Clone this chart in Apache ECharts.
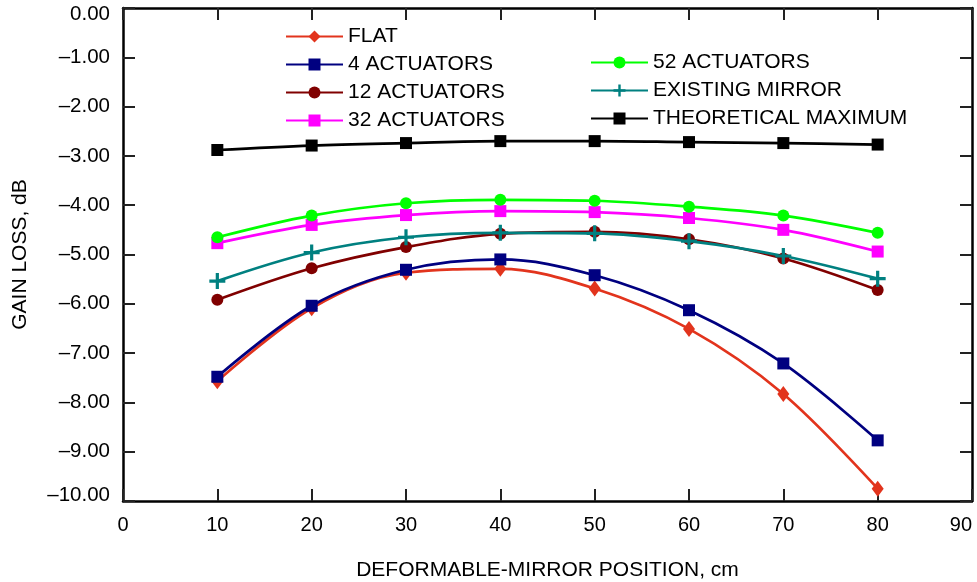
<!DOCTYPE html>
<html>
<head>
<meta charset="utf-8">
<script src="https://cdn.jsdelivr.net/npm/echarts@6/dist/echarts.min.js"></script>
<style>
  html, body { margin: 0; padding: 0; background: #fff; }
  #chart { width: 977px; height: 582px; }
</style>
</head>
<body>
<div id="chart"></div>
<script>
// mirror positions, cm
const positions = [10, 20, 30, 40, 50, 60, 70, 80];

// gain loss, dB
const flat = [-7.57, -6.09, -5.37, -5.29, -5.69, -6.51, -7.83, -9.75];
const act4 = [-7.48, -6.04, -5.31, -5.10, -5.42, -6.13, -7.21, -8.77];
const act12 = [-5.92, -5.28, -4.85, -4.58, -4.54, -4.69, -5.08, -5.72];
const act32 = [-4.77, -4.40, -4.20, -4.12, -4.14, -4.26, -4.50, -4.94];
const act52 = [-4.65, -4.21, -3.96, -3.89, -3.91, -4.03, -4.21, -4.56];
const existing = [-5.54, -4.96, -4.65, -4.56, -4.57, -4.73, -5.03, -5.49];
const theoretical = [-2.88, -2.79, -2.74, -2.70, -2.70, -2.72, -2.74, -2.77];

const seriesNames = [
  "FLAT", "4 ACTUATORS", "12 ACTUATORS", "32 ACTUATORS",
  "52 ACTUATORS", "EXISTING MIRROR", "THEORETICAL MAXIMUM"
];

const FONT = "Liberation Sans, Arial, sans-serif";
const plus = "path://M4,0H6V4H10V6H6V10H4V6H0V4H4Z";

function pairs(vals) {
  return positions.map((x, i) => [x, vals[i]]);
}

// one helper so every series looks the same apart from colour/marker
function line(name, vals, color, symbol, size) {
  return {
    name: name,
    type: "line",
    data: pairs(vals),
    smooth: 0.35,
    symbol: symbol,
    symbolSize: size,
    lineStyle: { color: color, width: 2.7 },
    itemStyle: { color: color },
    emphasis: { disabled: true },
  };
}

// y tick text: en dash minus, two decimals; the end labels sit inside the frame
function yLabel(v) {
  const txt = v === 0 ? "0.00" : "\u2013" + Math.abs(v).toFixed(2);
  if (v === 0) return "{top|" + txt + "}";
  if (v === -10) return "{bot|" + txt + "}";
  return txt;
}

const chart = echarts.init(document.getElementById("chart"));

const tickStyle = { show: true, inside: true, length: 12, lineStyle: { color: "#222", width: 2 } };
const axisLine = { show: true, onZero: false, lineStyle: { color: "#000", width: 2.5 } };
const legendText = { fontFamily: FONT, fontSize: 21, color: "#000" };

chart.setOption({
  animation: false,
  grid: { left: 123, right: 5, top: 8, bottom: 81, outerBoundsMode: "none" },
  legend: [
    {
      data: seriesNames.slice(0, 4),
      orient: "vertical",
      left: 280,
      top: 21,
      itemWidth: 57,
      itemHeight: 15,
      itemGap: 7,
      textStyle: legendText,
    },
    {
      data: seriesNames.slice(4),
      orient: "vertical",
      left: 585,
      top: 47,
      itemWidth: 57,
      itemHeight: 15,
      itemGap: 7,
      textStyle: legendText,
    },
  ],
  xAxis: [
    {
      type: "value",
      min: 0,
      max: 90,
      interval: 10,
      position: "bottom",
      name: "DEFORMABLE-MIRROR POSITION, cm",
      nameLocation: "middle",
      nameGap: 59,
      nameTextStyle: { fontFamily: FONT, fontSize: 21, color: "#000" },
      axisLine: axisLine,
      axisTick: tickStyle,
      axisLabel: { fontFamily: FONT, fontSize: 20, color: "#000", margin: 14, alignMaxLabel: "right" },
      splitLine: { show: false },
    },
    {
      type: "value",
      min: 0,
      max: 90,
      interval: 10,
      position: "top",
      axisLine: axisLine,
      axisTick: tickStyle,
      axisLabel: { show: false },
      splitLine: { show: false },
    },
  ],
  yAxis: [
    {
      type: "value",
      min: -10,
      max: 0,
      interval: 1,
      position: "left",
      name: "GAIN LOSS, dB",
      nameLocation: "middle",
      nameGap: 92,
      nameTextStyle: { fontFamily: FONT, fontSize: 21, color: "#000" },
      axisLine: axisLine,
      axisTick: tickStyle,
      axisLabel: {
        fontFamily: FONT,
        fontSize: 20.5,
        color: "#000",
        margin: 13,
        formatter: yLabel,
        rich: {
          top: { fontFamily: FONT, fontSize: 20.5, color: "#000", padding: [13, 0, 0, 0] },
          bot: { fontFamily: FONT, fontSize: 20.5, color: "#000", padding: [0, 0, 12, 0] },
        },
      },
      splitLine: { show: false },
    },
    {
      type: "value",
      min: -10,
      max: 0,
      interval: 1,
      position: "right",
      axisLine: axisLine,
      axisTick: tickStyle,
      axisLabel: { show: false },
      splitLine: { show: false },
    },
  ],
  series: [
    line(seriesNames[0], flat, "#e2341d", "diamond", [12, 16]),
    line(seriesNames[1], act4, "#000080", "rect", 12),
    line(seriesNames[2], act12, "#800000", "circle", 12),
    line(seriesNames[3], act32, "#ff00ff", "rect", 12),
    line(seriesNames[4], act52, "#00ff00", "circle", 12),
    line(seriesNames[5], existing, "#008080", plus, 16),
    line(seriesNames[6], theoretical, "#000000", "rect", 12),
  ],
});

window.onresize = function () {
  chart.resize();
};
</script>
</body>
</html>
